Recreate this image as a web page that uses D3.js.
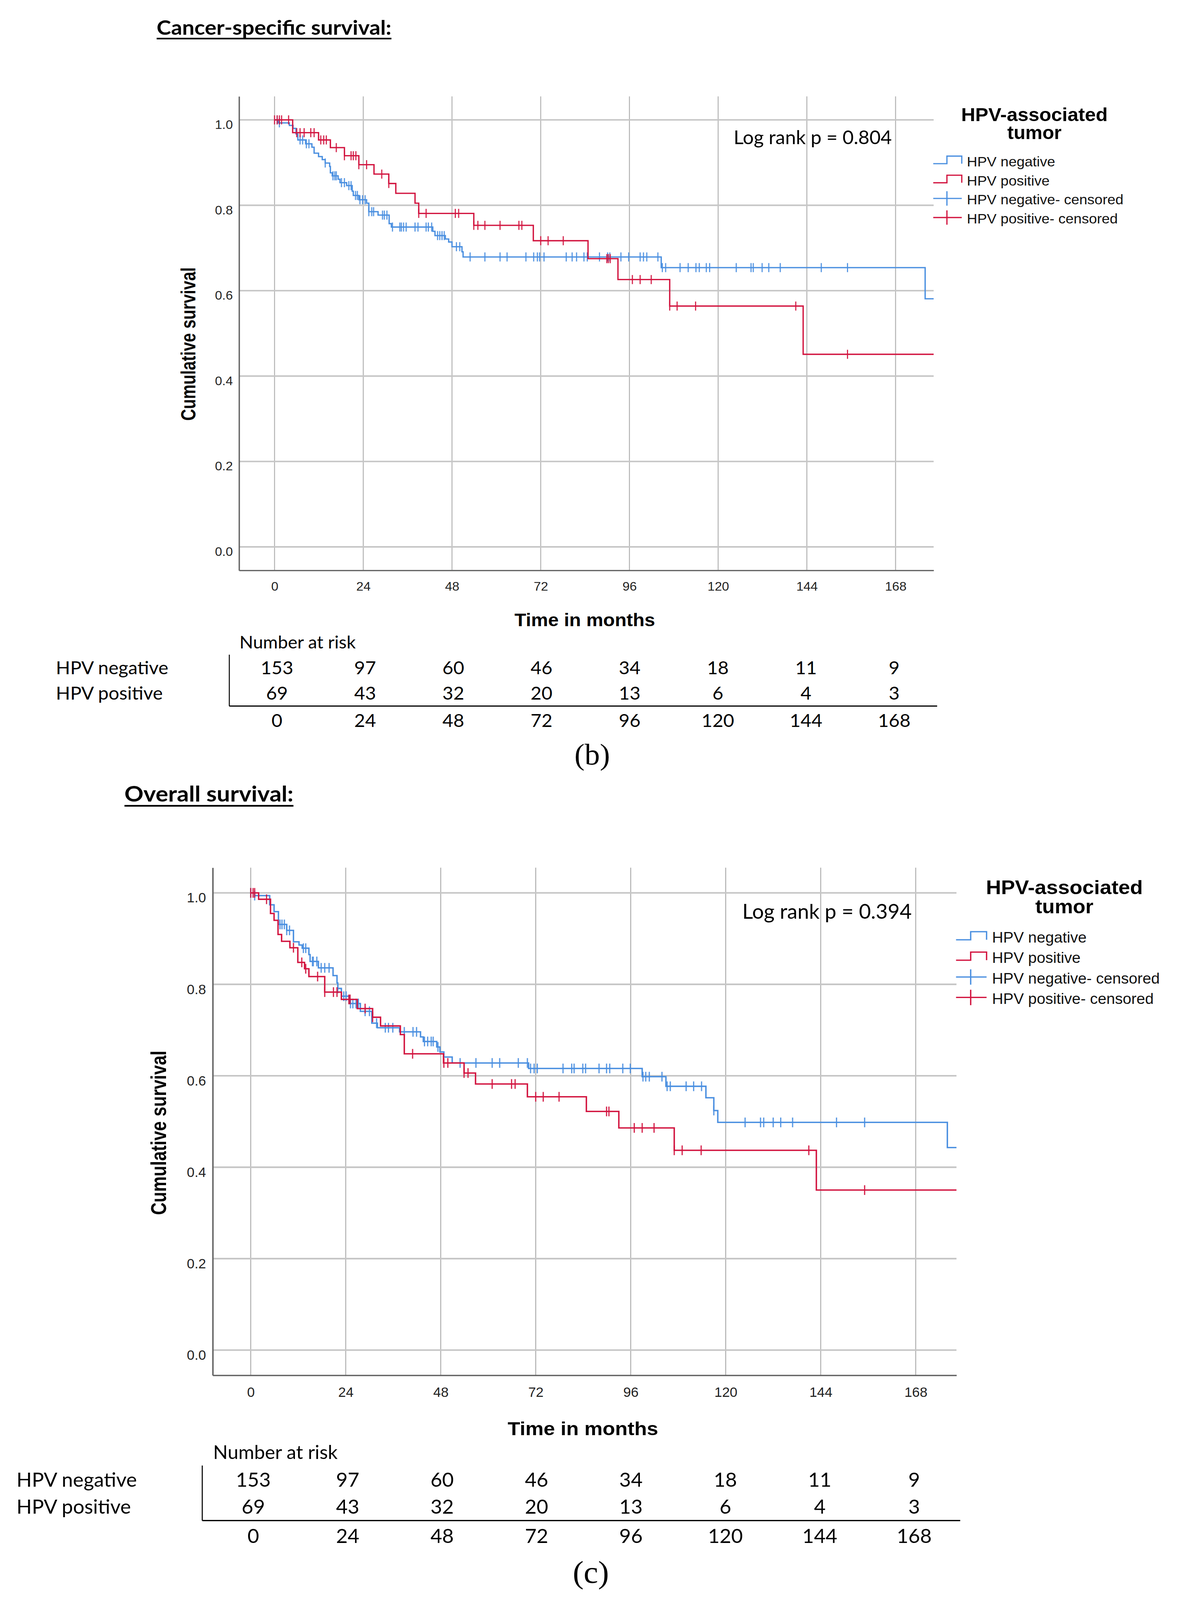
<!DOCTYPE html>
<html>
<head>
<meta charset="utf-8">
<script src="https://cdn.jsdelivr.net/npm/d3@7"></script>
<style>
  html, body { margin: 0; padding: 0; background: #fff; overflow: hidden; }
  svg { display: block; width: 100vw; height: 100vh; }
</style>
</head>
<body>
<script>
// axis ticks and number-at-risk table
var xTicks = [0, 24, 48, 72, 96, 120, 144, 168];
var yTicks = [0, 0.2, 0.4, 0.6, 0.8, 1.0];
var riskTimes = [0, 24, 48, 72, 96, 120, 144, 168];
var riskNeg = [153, 97, 60, 46, 34, 18, 11, 9];
var riskPos = [69, 43, 32, 20, 13, 6, 4, 3];
var groupNames = ["HPV negative", "HPV positive"];

// (b) cancer-specific survival - HPV negative
var cssNegTime = [0, 1.0, 4.0, 5.0, 5.8, 6.3, 8.4, 10.1, 10.7, 11.9, 12.9, 13.7, 14.9, 15.1, 15.6, 17.2, 17.7, 19.5, 21.0, 21.3, 22.8, 24.9, 25.5, 28.0, 31.0, 31.6, 42.8, 43.4, 46.2, 47.1, 48.0, 50.7, 51.0, 104.6, 176.0];
var cssNegSurv = [1.0, 0.993, 0.987, 0.980, 0.967, 0.953, 0.944, 0.936, 0.922, 0.914, 0.907, 0.899, 0.891, 0.876, 0.869, 0.861, 0.853, 0.846, 0.833, 0.823, 0.813, 0.805, 0.785, 0.777, 0.757, 0.749, 0.739, 0.729, 0.721, 0.714, 0.703, 0.691, 0.679, 0.654, 0.581];
var cssNegCens = [0.7, 1.3, 6.9, 7.6, 8.6, 9.3, 13.7, 15.8, 16.3, 16.7, 18.1, 18.9, 20.1, 20.7, 21.9, 22.4, 23.1, 23.8, 24.5, 25.5, 26.3, 26.8, 29.2, 29.7, 30.4, 31.9, 33.9, 34.3, 34.9, 35.6, 38.0, 38.8, 41.0, 41.6, 42.5, 44.1, 44.7, 45.3, 45.9, 49.2, 50.1,
  52.9, 56.9, 61.0, 62.9, 68.0, 70.1, 71.1, 71.7, 72.9, 78.9, 80.5, 81.7, 83.7, 84.6, 87.9, 90.1, 90.7, 93.7, 95.8, 98.9, 99.8, 100.7, 103.7,
  104.9, 105.8, 109.7, 111.9, 114.0, 114.9, 116.8, 117.7, 124.9, 128.9, 129.5, 131.9, 133.7, 136.8, 147.9, 155.0];

// (b) cancer-specific survival - HPV positive
var cssPosTime = [0, 4.9, 11.9, 15.1, 18.9, 22.8, 26.9, 30.9, 32.8, 38.0, 39.0, 53.9, 70.0, 84.8, 92.9, 106.9, 143.0];
var cssPosSurv = [1.0, 0.970, 0.953, 0.935, 0.916, 0.895, 0.873, 0.851, 0.828, 0.805, 0.781, 0.753, 0.717, 0.675, 0.626, 0.564, 0.451];
var cssPosCens = [0, 0.7, 1.3, 1.9, 3.8, 6.0, 6.9, 8.0, 9.8, 10.7, 12.5, 13.3, 14.0, 16.7, 18.9, 20.7, 21.3, 22.0, 22.8, 24.9, 29.0, 30.9, 39.0, 41.0, 48.9, 49.8, 53.9, 55.0, 56.9, 61.0, 66.1, 66.9, 72.0, 74.0, 78.1, 89.9, 90.3, 90.8, 96.8, 98.9, 101.9, 106.9, 108.9, 113.9, 141.0, 155.0];

// (c) overall survival - HPV negative
var osNegTime = [0, 1.0, 4.8, 5.9, 7.0, 9.1, 10.8, 12.2, 13.0, 14.7, 15.0, 17.1, 20.8, 21.8, 22.0, 22.9, 24.9, 27.7, 30.6, 32.0, 37.6, 42.9, 43.6, 47.0, 47.8, 48.8, 50.9, 70.2, 98.9, 104.9, 115.0, 117.0, 118.0, 176.0];
var osNegSurv = [1.0, 0.994, 0.974, 0.959, 0.931, 0.918, 0.893, 0.886, 0.879, 0.865, 0.850, 0.836, 0.819, 0.803, 0.791, 0.774, 0.758, 0.741, 0.715, 0.705, 0.696, 0.685, 0.675, 0.663, 0.652, 0.641, 0.628, 0.616, 0.598, 0.577, 0.552, 0.524, 0.498, 0.443];
var osNegCens = [0, 1.0, 7.4, 7.9, 8.5, 9.1, 9.8, 13.3, 13.9, 15.6, 15.8, 16.7, 17.8, 18.7, 19.8, 22.0, 23.5, 24.1, 25.2, 25.8, 26.6, 27.2, 28.9, 30.0, 31.8, 34.0, 34.8, 35.9, 38.8, 41.0, 41.9, 43.9, 44.7, 45.6, 46.1, 47.3,
  52.9, 56.9, 61.0, 62.9, 67.6, 69.9, 70.7, 71.6, 72.4, 78.9, 81.1, 81.7, 83.9, 84.6, 88.0, 89.9, 90.7, 94.0, 95.9, 99.1, 99.8, 100.7, 103.9,
  105.2, 106.0, 110.0, 111.9, 113.9, 117.0, 124.9, 128.8, 129.6, 132.0, 133.9, 136.9, 148.0, 155.1];

// (c) overall survival - HPV positive
var osPosTime = [0, 2.0, 5.0, 5.9, 6.9, 7.8, 9.9, 11.9, 13.6, 14.7, 18.7, 22.9, 26.9, 30.8, 32.8, 37.8, 38.8, 48.7, 53.9, 56.8, 69.9, 84.8, 93.0, 107.0, 142.9];
var osPosSurv = [1.0, 0.986, 0.955, 0.940, 0.909, 0.894, 0.880, 0.848, 0.834, 0.817, 0.783, 0.767, 0.747, 0.728, 0.709, 0.690, 0.648, 0.628, 0.606, 0.582, 0.554, 0.522, 0.486, 0.437, 0.350];
var osPosCens = [0, 0.6, 1.0, 4.0, 10.8, 12.9, 13.9, 16.9, 18.7, 20.9, 21.8, 24.8, 25.1, 28.9, 30.8, 40.9, 48.8, 49.8, 53.9, 54.9, 61.0, 65.9, 66.8, 72.0, 73.9, 77.9, 89.9, 90.5, 96.9, 98.9, 101.9, 107.0, 109.0, 113.8, 141.0, 155.1];

var blue = "#4a8fe0", red = "#d2143f";
var calibri = "Lato, 'Open Sans', sans-serif";
var arial = "'Liberation Sans', Arial, sans-serif";

var W = 3036, H = 4233;
// drawn in 3036x4233 units and stretched onto whatever the window really is
var svg = d3.select("body").append("svg")
  .attr("viewBox", "0 0 " + W + " " + H)
  .attr("preserveAspectRatio", "none");
svg.append("rect").attr("width", W).attr("height", H).attr("fill", "#fff");

// panel frame (coordinates of the first panel, second panel is the same output scaled)
var L = 612, R = 2390, T = 255, B = 1509;

function drawPanel(g, P) {
  var x = d3.scaleLinear().domain([-9.6, 178.3]).range([L, R]);
  var y = d3.scaleLinear().domain([-0.055, 1.055]).range([B, T]);

  // section title, underlined
  g.append("text").attr("x", 401).attr("y", 92)
    .attr("font-family", calibri).attr("font-weight", 700).attr("font-size", 54)
    .attr("textLength", P.titleLen).attr("lengthAdjust", "spacingAndGlyphs")
    .text(P.title);
  g.append("line").attr("x1", 401).attr("x2", 401 + P.titleLen)
    .attr("y1", 102).attr("y2", 102).attr("stroke", "#000").attr("stroke-width", 4);

  // grid
  g.append("g").selectAll("line").data(xTicks).join("line")
    .attr("x1", d => x(d)).attr("x2", d => x(d))
    .attr("y1", T).attr("y2", B)
    .attr("stroke", "#b4b4b4").attr("stroke-width", 2.5);
  g.append("g").selectAll("line").data(yTicks).join("line")
    .attr("x1", L).attr("x2", R)
    .attr("y1", d => y(d)).attr("y2", d => y(d))
    .attr("stroke", "#c6c6c6").attr("stroke-width", 4);

  // axes
  var ax = g.append("g").attr("transform", "translate(0," + B + ")")
    .call(d3.axisBottom(x).tickValues(xTicks).tickSize(0).tickPadding(30).tickSizeOuter(0));
  ax.select(".domain").attr("stroke", "#666").attr("stroke-width", 3.5);
  ax.selectAll("text").attr("font-family", arial).attr("font-size", 33).attr("fill", "#222");

  var ay = g.append("g").attr("transform", "translate(" + L + ",0)")
    .call(d3.axisLeft(y).tickValues(yTicks).tickFormat(d3.format(".1f")).tickSize(0).tickPadding(16).tickSizeOuter(0));
  ay.select(".domain").attr("stroke", "#666").attr("stroke-width", 3.5);
  ay.selectAll("text").attr("font-family", arial).attr("font-size", 33).attr("fill", "#222")
    .attr("dy", "0.95em").attr("y", -8);

  // axis titles
  g.append("text").attr("x", 1497).attr("y", 1657).attr("text-anchor", "middle")
    .attr("font-family", arial).attr("font-weight", 700).attr("font-size", 47)
    .attr("textLength", 360).attr("lengthAdjust", "spacingAndGlyphs")
    .text("Time in months");
  g.append("text").attr("transform", "translate(500,910) rotate(-90)").attr("text-anchor", "middle")
    .attr("font-family", arial).attr("font-weight", 700).attr("font-size", 51)
    .attr("textLength", 406).attr("lengthAdjust", "spacingAndGlyphs")
    .text("Cumulative survival");

  // survival curves
  var series = [
    { t: P.negT, s: P.negS, c: P.negC, col: blue },
    { t: P.posT, s: P.posS, c: P.posC, col: red }
  ];
  var line = d3.line().x(d => x(d[0])).y(d => y(d[1])).curve(d3.curveStepAfter);
  series.forEach(function (se) {
    var pts = se.t.map((t, i) => [t, se.s[i]]);
    pts.push([x.domain()[1], se.s[se.s.length - 1]]);
    g.append("path").attr("d", line(pts))
      .attr("fill", "none").attr("stroke", se.col).attr("stroke-width", 3.4);
    var survAt = function (t) { return se.s[Math.max(0, d3.bisectRight(se.t, t) - 1)]; };
    g.append("g").selectAll("line").data(se.c).join("line")
      .attr("x1", d => x(d)).attr("x2", d => x(d))
      .attr("y1", d => y(survAt(d)) - 12).attr("y2", d => y(survAt(d)) + 12)
      .attr("stroke", se.col).attr("stroke-width", 3).attr("opacity", 0.9);
  });

  // log rank
  g.append("text").attr("x", 1878).attr("y", 381)
    .attr("font-family", calibri).attr("font-size", 50)
    .attr("textLength", 405).attr("lengthAdjust", "spacingAndGlyphs")
    .text(P.pText);

  // legend
  g.append("text").attr("x", 2648).attr("y", 320).attr("text-anchor", "middle")
    .attr("font-family", arial).attr("font-weight", 700).attr("font-size", 49)
    .attr("textLength", 375).attr("lengthAdjust", "spacingAndGlyphs")
    .text("HPV-associated");
  g.append("text").attr("x", 2648).attr("y", 368).attr("text-anchor", "middle")
    .attr("font-family", arial).attr("font-weight", 700).attr("font-size", 49)
    .text("tumor");
  var legItems = [
    { label: "HPV negative", col: blue, kind: "step" },
    { label: "HPV positive", col: red, kind: "step" },
    { label: "HPV negative- censored", col: blue, kind: "cens" },
    { label: "HPV positive- censored", col: red, kind: "cens" }
  ];
  var lg = g.append("g").selectAll("g").data(legItems).join("g")
    .attr("transform", (d, i) => "translate(0," + (440 + i * 50.5) + ")");
  lg.append("text").attr("x", 2475).attr("y", 0)
    .attr("font-family", arial).attr("font-size", 37).attr("fill", "#111")
    .text(d => d.label);
  lg.filter(d => d.kind === "step").append("path")
    .attr("d", "M2389,-7H2424V-27H2462V-7")
    .attr("fill", "none").attr("stroke", d => d.col).attr("stroke-width", 3.2);
  lg.filter(d => d.kind === "cens").append("path")
    .attr("d", "M2389,-16H2462M2424,-35V3")
    .attr("fill", "none").attr("stroke", d => d.col).attr("stroke-width", 3.2);

  // number at risk table
  var xr = d3.scaleLinear().domain([0, 168]).range([709, 2289]);
  g.append("text").attr("x", 613).attr("y", 1716)
    .attr("font-family", calibri).attr("font-size", 46).text("Number at risk");
  g.append("line").attr("x1", 587).attr("x2", 587).attr("y1", 1732).attr("y2", 1868)
    .attr("stroke", "#000").attr("stroke-width", 2.5);
  g.append("line").attr("x1", 587).attr("x2", 2399).attr("y1", 1868).attr("y2", 1868)
    .attr("stroke", "#000").attr("stroke-width", 3);
  var rows = [riskNeg, riskPos];
  rows.forEach(function (row, r) {
    var yy = 1784 + r * 67;
    g.append("text").attr("x", 143).attr("y", yy)
      .attr("font-family", calibri).attr("font-size", 48).text(groupNames[r]);
    g.append("g").selectAll("text").data(row).join("text")
      .attr("x", (d, i) => xr(riskTimes[i])).attr("y", yy).attr("text-anchor", "middle")
      .attr("font-family", calibri).attr("font-size", 48).text(d => d);
  });
  g.append("g").selectAll("text").data(riskTimes).join("text")
    .attr("x", d => xr(d)).attr("y", 1923).attr("text-anchor", "middle")
    .attr("font-family", calibri).attr("font-size", 48).text(d => d);

  // panel tag
  g.append("text").attr("x", 1516).attr("y", 2022).attr("text-anchor", "middle")
    .attr("font-family", "'Liberation Serif', 'DejaVu Serif', serif").attr("font-size", 78)
    .text(P.tag);
}

drawPanel(svg.append("g"), {
  title: "Cancer-specific survival:", titleLen: 601,
  pText: "Log rank p = 0.804", tag: "(b)",
  negT: cssNegTime, negS: cssNegSurv, negC: cssNegCens,
  posT: cssPosTime, posS: cssPosSurv, posC: cssPosCens
});

drawPanel(svg.append("g").attr("transform", "translate(-110.8,2022.6) scale(1.0708)"), {
  title: "Overall survival:", titleLen: 404,
  pText: "Log rank p = 0.394", tag: "(c)",
  negT: osNegTime, negS: osNegSurv, negC: osNegCens,
  posT: osPosTime, posS: osPosSurv, posC: osPosCens
});
</script>
</body>
</html>
